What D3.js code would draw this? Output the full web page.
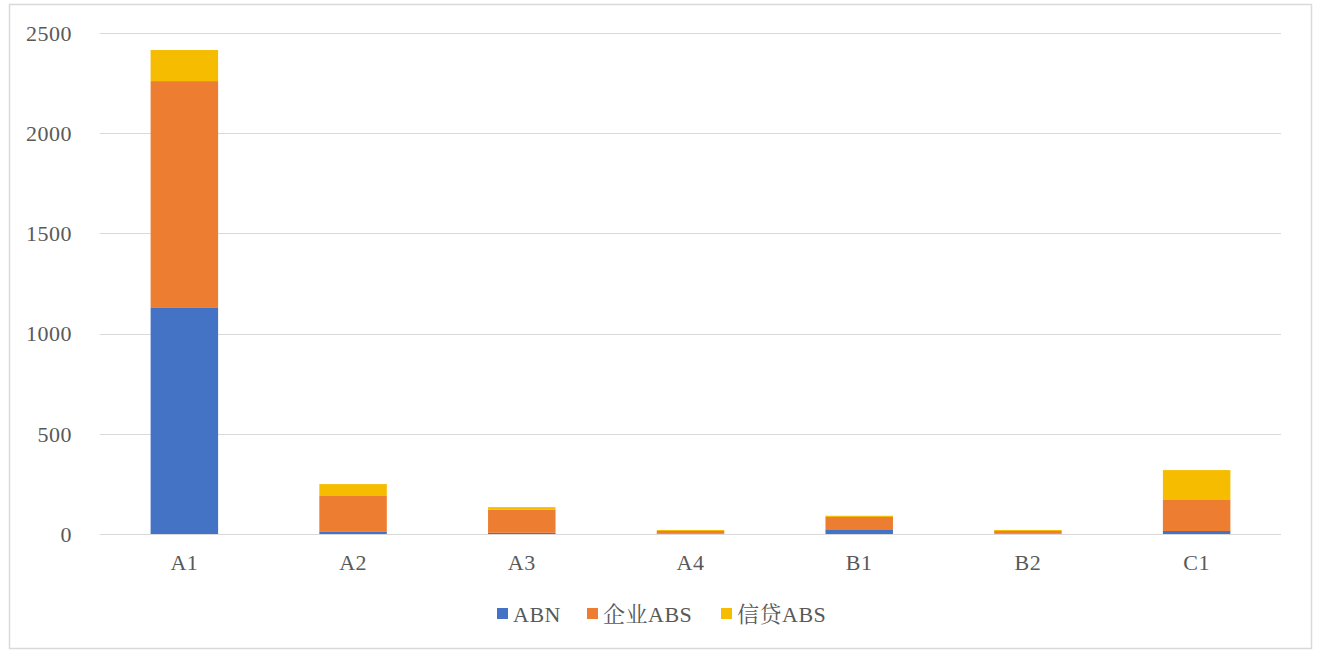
<!DOCTYPE html>
<html>
<head>
<meta charset="utf-8">
<script src="https://cdn.jsdelivr.net/npm/d3@7"></script>
<style>
  body { margin: 0; background: #fff; }
  text { font-family: "Liberation Serif", "Noto Serif CJK SC", "Noto Sans CJK SC", serif; fill: #595959; }
</style>
</head>
<body>
<svg class="chart"></svg>
<script>
const categories = ['A1', 'A2', 'A3', 'A4', 'B1', 'B2', 'C1']
const seriesNames = ['ABN', '企业ABS', '信贷ABS']
const abn = [1128, 13, 6, 1, 20, 1, 15]
const qiyeAbs = [1132, 180, 115, 14, 65, 14, 158]
const xindaiAbs = [155, 56, 13, 5, 6, 5, 146]
const yTicks = [0, 500, 1000, 1500, 2000, 2500]
const colors = ['#4472C4', '#ED7D31', '#F5BC00']

const width = 1317
const height = 651
const margin = { left: 100, right: 36, top: 33, bottom: 117 }

const rows = categories.map((c, i) => ({ cat: c, ABN: abn[i], '企业ABS': qiyeAbs[i], '信贷ABS': xindaiAbs[i] }))
const stacked = d3.stack().keys(seriesNames)(rows)

const chart = d3.select('.chart')
  .attr('width', width)
  .attr('height', height)

chart.append('rect')
  .attr('x', 9.5).attr('y', 4.5)
  .attr('width', 1302).attr('height', 644)
  .attr('fill', '#fff')
  .attr('stroke', '#D9D9D9')
  .attr('stroke-width', 1.5)

const xScale = d3.scaleBand()
  .domain(categories)
  .range([margin.left, width - margin.right])
  .paddingInner(0.6)
  .paddingOuter(0.3)

const yScale = d3.scaleLinear()
  .domain([0, 2500])
  .range([height - margin.bottom, margin.top])

// grid
chart.append('g')
  .selectAll('line')
  .data(yTicks)
  .enter()
  .append('line')
  .attr('x1', margin.left)
  .attr('x2', width - margin.right)
  .attr('y1', d => Math.round(yScale(d)) + 0.5)
  .attr('y2', d => Math.round(yScale(d)) + 0.5)
  .attr('stroke', '#D9D9D9')
  .attr('stroke-width', 1)

// y labels
chart.append('g')
  .selectAll('text')
  .data(yTicks)
  .enter()
  .append('text')
  .attr('x', 72)
  .attr('y', d => yScale(d))
  .attr('dy', '0.35em')
  .attr('text-anchor', 'end')
  .style('font-size', '22px')
  .style('letter-spacing', '0.5px')
  .text(d => d)

// bars
chart.append('g')
  .selectAll('g')
  .data(stacked)
  .enter()
  .append('g')
  .attr('fill', (d, i) => colors[i])
  .selectAll('rect')
  .data(d => d)
  .enter()
  .append('rect')
  .attr('x', d => xScale(d.data.cat))
  .attr('width', xScale.bandwidth())
  .attr('y', d => yScale(d[1]))
  .attr('height', d => yScale(d[0]) - yScale(d[1]))

// x labels
chart.append('g')
  .selectAll('text')
  .data(categories)
  .enter()
  .append('text')
  .attr('x', d => xScale(d) + xScale.bandwidth() / 2)
  .attr('y', 570)
  .attr('text-anchor', 'middle')
  .style('font-size', '22px')
  .style('letter-spacing', '0.5px')
  .text(d => d)

// legend
const legendX = [497, 587, 721]
const legend = chart.append('g')
  .selectAll('g')
  .data(seriesNames)
  .enter()
  .append('g')
  .attr('transform', (d, i) => `translate(${legendX[i]},614)`)
legend.append('rect')
  .attr('x', 0).attr('y', -6)
  .attr('width', 11).attr('height', 11)
  .attr('fill', (d, i) => colors[i])
legend.append('text')
  .attr('x', 16)
  .attr('dy', '0.35em')
  .style('font-size', '22px')
  .style('letter-spacing', '0.5px')
  .text(d => d)
</script>
</body>
</html>
